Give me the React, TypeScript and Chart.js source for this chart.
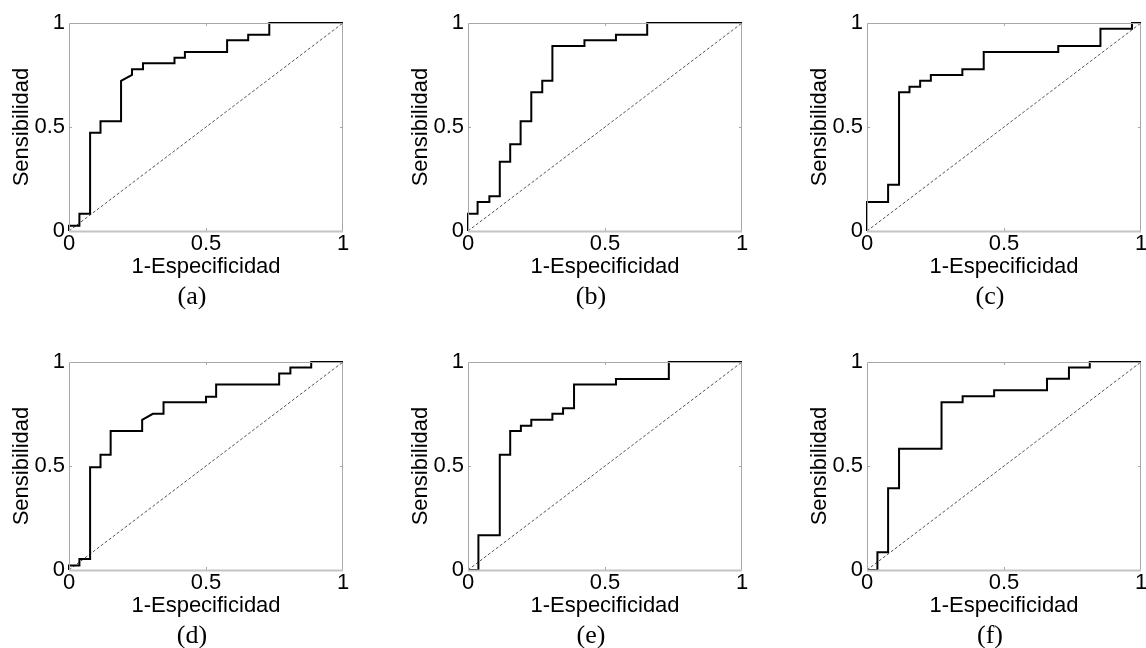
import React, { useEffect, useRef } from "react";
import { Chart, registerables } from "chart.js";

Chart.register(...registerables);

// ---- Data (false positive rate = 1-Especificidad, true positive rate = Sensibilidad) ----
const fprA = [0, 0, 0.038, 0.038, 0.077, 0.077, 0.115, 0.115, 0.19, 0.19, 0.23, 0.23, 0.27, 0.27, 0.385, 0.385, 0.423, 0.423, 0.577, 0.577, 0.654, 0.654, 0.731, 0.731, 1];
const tprA = [0, 0.025, 0.025, 0.083, 0.083, 0.472, 0.472, 0.528, 0.528, 0.722, 0.75, 0.778, 0.778, 0.806, 0.806, 0.833, 0.833, 0.861, 0.861, 0.917, 0.917, 0.944, 0.944, 1, 1];

const fprB = [0, 0, 0.035, 0.035, 0.078, 0.078, 0.116, 0.116, 0.154, 0.154, 0.192, 0.192, 0.231, 0.231, 0.271, 0.271, 0.308, 0.308, 0.425, 0.425, 0.54, 0.54, 0.654, 0.654, 1];
const tprB = [0, 0.083, 0.083, 0.139, 0.139, 0.167, 0.167, 0.333, 0.333, 0.417, 0.417, 0.528, 0.528, 0.667, 0.667, 0.722, 0.722, 0.889, 0.889, 0.917, 0.917, 0.944, 0.944, 1, 1];

const fprC = [0, 0, 0.077, 0.077, 0.117, 0.117, 0.155, 0.155, 0.194, 0.194, 0.233, 0.233, 0.348, 0.348, 0.426, 0.426, 0.698, 0.698, 0.852, 0.852, 0.967, 0.967, 1];
const tprC = [0, 0.139, 0.139, 0.222, 0.222, 0.667, 0.667, 0.694, 0.694, 0.722, 0.722, 0.75, 0.75, 0.778, 0.778, 0.861, 0.861, 0.889, 0.889, 0.972, 0.972, 1, 1];

const fprD = [0, 0, 0.038, 0.038, 0.077, 0.077, 0.115, 0.115, 0.152, 0.152, 0.267, 0.267, 0.306, 0.345, 0.345, 0.5, 0.5, 0.537, 0.537, 0.767, 0.767, 0.808, 0.808, 0.884, 0.884, 1];
const tprD = [0, 0.022, 0.022, 0.053, 0.053, 0.494, 0.494, 0.554, 0.554, 0.668, 0.668, 0.722, 0.751, 0.751, 0.806, 0.806, 0.833, 0.833, 0.892, 0.892, 0.945, 0.945, 0.974, 0.974, 1, 1];

const fprE = [0, 0.038, 0.038, 0.116, 0.116, 0.154, 0.154, 0.193, 0.193, 0.231, 0.231, 0.308, 0.308, 0.347, 0.347, 0.387, 0.387, 0.54, 0.54, 0.733, 0.733, 1];
const tprE = [0, 0, 0.167, 0.167, 0.554, 0.554, 0.668, 0.668, 0.693, 0.693, 0.722, 0.722, 0.751, 0.751, 0.778, 0.778, 0.892, 0.892, 0.918, 0.918, 1, 1];

const fprF = [0, 0.038, 0.038, 0.077, 0.077, 0.117, 0.117, 0.272, 0.272, 0.349, 0.349, 0.464, 0.464, 0.657, 0.657, 0.737, 0.737, 0.813, 0.813, 1];
const tprF = [0, 0, 0.085, 0.085, 0.393, 0.393, 0.583, 0.583, 0.807, 0.807, 0.835, 0.835, 0.864, 0.864, 0.92, 0.92, 0.974, 0.974, 1, 1];

const chanceX = [0, 1];
const chanceY = [0, 1];

const captions = ["(a)", "(b)", "(c)", "(d)", "(e)", "(f)"];
const xTitle = "1-Especificidad";
const yTitle = "Sensibilidad";

const panelData = [
  [fprA, tprA],
  [fprB, tprB],
  [fprC, tprC],
  [fprD, tprD],
  [fprE, tprE],
  [fprF, tprF],
];

// ---- Layout ----
const CANVAS_W = 360;
const CANVAS_H = 282;
const PLOT_LEFT = 69;
const PLOT_TOP = 23;
const PLOT_W = 274;
const PLOT_H = 208;
const colLefts = [0, 399, 798];
const rowTops = [0, 339];

const SANS = "'Liberation Sans', Arial, sans-serif";
const SERIF = "'Liberation Serif', 'Times New Roman', serif";

const boxPlugin = {
  id: "matlabBox",
  afterDatasetsDraw(chart: any) {
    const { ctx, chartArea } = chart;
    const { left, top, right, bottom } = chartArea;
    ctx.save();
    ctx.strokeStyle = "#a8a8a8";
    ctx.lineWidth = 1;
    ctx.beginPath();
    ctx.moveTo(left + 0.5, bottom);
    ctx.lineTo(left + 0.5, top + 0.5);
    ctx.lineTo(right - 0.5, top + 0.5);
    ctx.lineTo(right - 0.5, bottom);
    ctx.stroke();
    // inward ticks
    const xs = chart.scales.x;
    const ys = chart.scales.y;
    const tickVals = [0.5];
    ctx.beginPath();
    for (const v of tickVals) {
      const px = Math.round(xs.getPixelForValue(v)) + 0.5;
      ctx.moveTo(px, bottom);
      ctx.lineTo(px, bottom - 3);
      ctx.moveTo(px, top);
      ctx.lineTo(px, top + 3);
      const py = Math.round(ys.getPixelForValue(v)) + 0.5;
      ctx.moveTo(left, py);
      ctx.lineTo(left + 3, py);
      ctx.moveTo(right, py);
      ctx.lineTo(right - 3, py);
    }
    ctx.stroke();
    // bottom axis (thicker, lighter)
    ctx.strokeStyle = "#c4c4c4";
    ctx.lineWidth = 2;
    ctx.beginPath();
    ctx.moveTo(left, bottom + 0.5);
    ctx.lineTo(right, bottom + 0.5);
    ctx.stroke();
    ctx.restore();
  },
};

const fmtTick = (v: any) => String(Number(v));

function Panel({ idx }: { idx: number }) {
  const ref = useRef<HTMLCanvasElement | null>(null);
  const col = idx % 3;
  const row = Math.floor(idx / 3);
  const left = colLefts[col];
  const top = rowTops[row];

  useEffect(() => {
    if (!ref.current) return;
    const [fpr, tpr] = panelData[idx];
    const roc = fpr.map((x, i) => ({ x, y: tpr[i] }));
    const chance = chanceX.map((x, i) => ({ x, y: chanceY[i] }));
    const chart = new Chart(ref.current, {
      type: "line",
      data: {
        datasets: [
          {
            data: roc,
            borderColor: "#000000",
            borderWidth: 2,
            pointRadius: 0,
            tension: 0,
            fill: false,
            clip: false,
          },
          {
            data: chance,
            borderColor: "#555555",
            borderWidth: 1,
            borderDash: [3, 2],
            pointRadius: 0,
            tension: 0,
            fill: false,
          },
        ],
      },
      options: {
        responsive: false,
        animation: false,
        devicePixelRatio: 1,
        layout: {
          padding: { left: 0, top: PLOT_TOP, right: CANVAS_W - PLOT_LEFT - PLOT_W, bottom: 0 },
        },
        plugins: {
          legend: { display: false },
          tooltip: { enabled: false },
          title: { display: false },
        },
        scales: {
          x: {
            type: "linear",
            min: 0,
            max: 1,
            grid: { display: false, drawTicks: false },
            border: { display: false },
            ticks: {
              stepSize: 0.5,
              padding: 0,
              color: "#000",
              font: { family: SANS, size: 22, lineHeight: 1.2 },
              maxRotation: 0,
              callback: fmtTick,
            },
            title: {
              display: true,
              text: xTitle,
              color: "#000",
              padding: { top: 0, bottom: 2 },
              font: { family: SANS, size: 22, lineHeight: 1.2 },
            },
            afterFit: (scale: any) => {
              scale.height = CANVAS_H - PLOT_TOP - PLOT_H;
            },
          },
          y: {
            type: "linear",
            min: 0,
            max: 1,
            grid: { display: false, drawTicks: false },
            border: { display: false },
            ticks: {
              stepSize: 0.5,
              padding: 4,
              color: "#000",
              font: { family: SANS, size: 22, lineHeight: 1.2 },
              callback: fmtTick,
            },
            title: {
              display: true,
              text: yTitle,
              color: "#000",
              padding: { top: 9, bottom: 0 },
              font: { family: SANS, size: 22, lineHeight: 1.2 },
            },
            afterFit: (scale: any) => {
              scale.width = PLOT_LEFT;
            },
          },
        },
      },
      plugins: [boxPlugin],
    } as any);
    return () => chart.destroy();
  }, [idx]);

  return (
    <>
      <canvas
        ref={ref}
        width={CANVAS_W}
        height={CANVAS_H}
        style={{ position: "absolute", left, top, width: CANVAS_W, height: CANVAS_H }}
      />
      <div
        style={{
          position: "absolute",
          left: left + PLOT_LEFT + PLOT_W / 2 - 14,
          top: top + 296,
          transform: "translate(-50%, -50%)",
          fontFamily: SERIF,
          fontSize: 26,
          lineHeight: 1,
          color: "#000",
          whiteSpace: "nowrap",
        }}
      >
        {captions[idx]}
      </div>
    </>
  );
}

export default function App() {
  return (
    <div
      style={{
        position: "absolute",
        left: 0,
        top: 0,
        width: 1146,
        height: 648,
        overflow: "hidden",
        background: "#ffffff",
      }}
    >
      {[0, 1, 2, 3, 4, 5].map((i) => (
        <Panel key={i} idx={i} />
      ))}
    </div>
  );
}
